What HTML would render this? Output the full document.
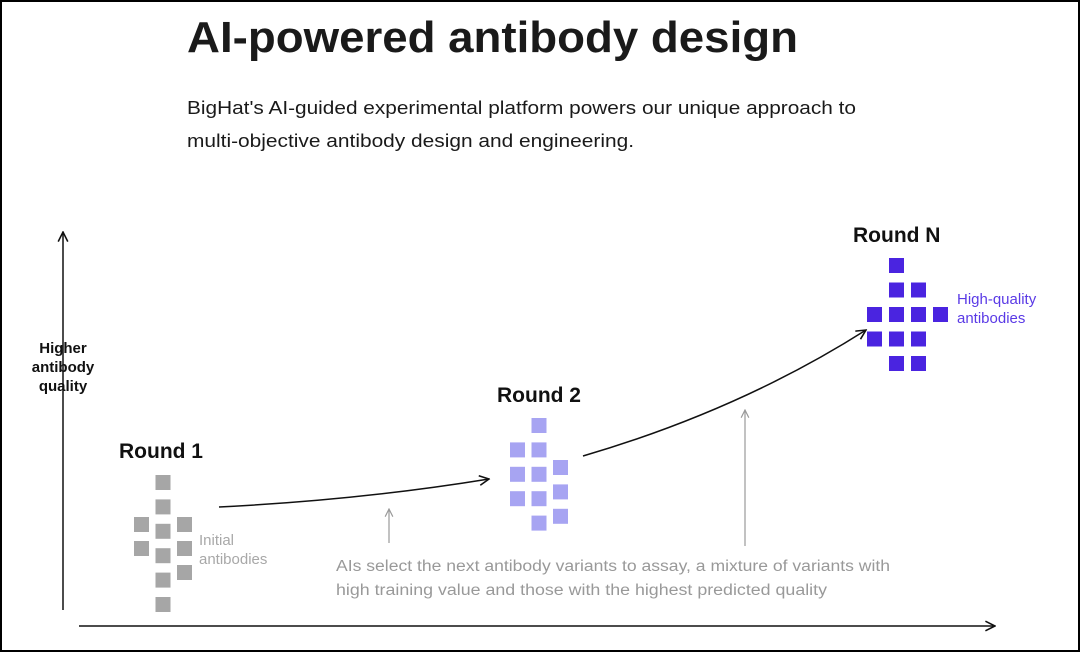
<!DOCTYPE html>
<html><head><meta charset="utf-8"><style>
html,body{margin:0;padding:0;background:#fff}
svg{display:block}
text{font-family:"Liberation Sans",sans-serif}
</style></head><body>
<svg width="1080" height="652" viewBox="0 0 1080 652">
<defs>
<marker id="ah" viewBox="0 0 10 10" refX="9" refY="5" markerWidth="8" markerHeight="8" orient="auto"><path d="M1,1 L9,5 L1,9" fill="none" stroke="#111" stroke-width="1.3"/></marker>
<marker id="ahg" viewBox="0 0 10 10" refX="9" refY="5" markerWidth="8" markerHeight="8" orient="auto"><path d="M1,1 L9,5 L1,9" fill="none" stroke="#999" stroke-width="1.2"/></marker>
</defs>
<rect x="1" y="1" width="1078" height="650" fill="#fff" stroke="#000" stroke-width="2"/>
<text x="187" y="52" font-size="44" font-weight="bold" fill="#1a1a1a" textLength="611" lengthAdjust="spacingAndGlyphs">AI-powered antibody design</text>
<text x="187" y="114" font-size="18.5" fill="#1a1a1a" textLength="669" lengthAdjust="spacingAndGlyphs">BigHat's AI-guided experimental platform powers our unique approach to</text>
<text x="187" y="147" font-size="18.5" fill="#1a1a1a" textLength="447" lengthAdjust="spacingAndGlyphs">multi-objective antibody design and engineering.</text>

<line x1="63" y1="610" x2="63" y2="232" stroke="#111" stroke-width="1.5" marker-end="url(#ah)"/>
<line x1="79" y1="626" x2="995" y2="626" stroke="#111" stroke-width="1.5" marker-end="url(#ah)"/>
<g font-size="15" font-weight="bold" fill="#111" text-anchor="middle">
<text x="63" y="353">Higher</text><text x="63" y="372">antibody</text><text x="63" y="391">quality</text></g>

<text x="119" y="458" font-size="21" font-weight="bold" fill="#111">Round 1</text>
<text x="497" y="402" font-size="21" font-weight="bold" fill="#111">Round 2</text>
<text x="853" y="242" font-size="21" font-weight="bold" fill="#111">Round N</text>

<g id="r1"></g>
<g id="r2"></g>
<g id="rn"></g>

<g fill="#a8a8a8" font-size="15"><text x="199" y="545">Initial</text><text x="199" y="564">antibodies</text></g>
<g fill="#5a3ae6" font-size="15"><text x="957" y="304">High-quality</text><text x="957" y="323">antibodies</text></g>

<path d="M219,507 Q360,500 489,479" fill="none" stroke="#111" stroke-width="1.5" marker-end="url(#ah)"/>
<path d="M583,456 Q740,410 866,330" fill="none" stroke="#111" stroke-width="1.5" marker-end="url(#ah)"/>
<line x1="389" y1="543" x2="389" y2="509" stroke="#999" stroke-width="1.2" marker-end="url(#ahg)"/>
<line x1="745" y1="546" x2="745" y2="410" stroke="#999" stroke-width="1.2" marker-end="url(#ahg)"/>
<g fill="#999" font-size="15.5">
<text x="336" y="571" textLength="554" lengthAdjust="spacingAndGlyphs">AIs select the next antibody variants to assay, a mixture of variants with</text>
<text x="336" y="595" textLength="491" lengthAdjust="spacingAndGlyphs">high training value and those with the highest predicted quality</text></g>
</svg>
<script>
// grid cells [col,row]
const round1Cells=[[1,0],[1,1],[0,2],[1,2],[2,2],[0,3],[1,3],[2,3],[1,4],[2,4],[1,5]];
const round2Cells=[[1,0],[0,1],[1,1],[0,2],[1,2],[0,3],[1,3],[1,4]];
const round2Offset=[[2,0],[2,1],[2,2]];
const roundNCells=[[1,0],[1,1],[2,1],[0,2],[1,2],[2,2],[3,2],[0,3],[1,3],[2,3],[1,4],[2,4]];
const NS='http://www.w3.org/2000/svg';
function draw(id,cells,x0,y0,color,sx,sy,yo){
  const g=document.getElementById(id);
  cells.forEach(c=>{
    const r=document.createElementNS(NS,'rect');
    r.setAttribute('x',x0+c[0]*sx);r.setAttribute('y',y0+c[1]*sy+(yo||0));
    r.setAttribute('width',15);r.setAttribute('height',15);r.setAttribute('fill',color);
    
    
    g.appendChild(r);
  });
}
draw('r1',round1Cells.filter(c=>!(c[0]!==1&&true)),134,475,'#a6a6a6',21.5,24.4);
draw('r1',[[0,0],[0,1]],134,517,'#a6a6a6',21.5,24);
draw('r1',[[2,0],[2,1],[2,2]],134,517,'#a6a6a6',21.5,24);
draw('r2',round2Cells,510,418,'#a7a4f2',21.5,24.4);
draw('r2',round2Offset,510,460,'#a7a4f2',21.5,24.4);
draw('rn',roundNCells,867,258,'#4a24e0',22,24.5);
</script>
</body></html>
